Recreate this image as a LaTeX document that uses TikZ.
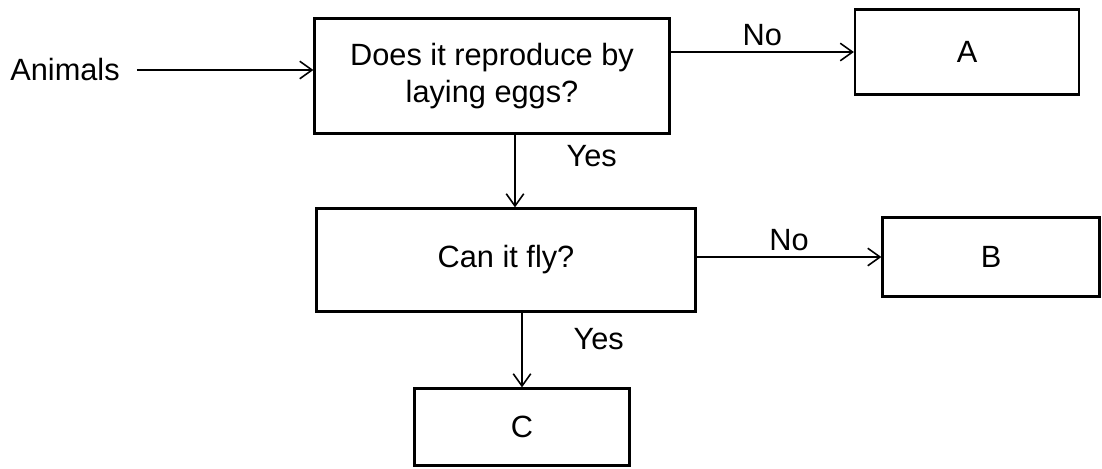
\documentclass[tikz,border=0pt]{standalone}
\usepackage{fontspec}
\setmainfont{Liberation Sans}
\usetikzlibrary{arrows.meta}

\tikzset{
	box/.style={draw, line width=1.3pt, inner sep=0pt, align=center},
	arr/.style={-{Straight Barb[length=7pt,width=10pt]}, line width=0.9pt},
}

\begin{document}
\begin{tikzpicture}[x=0.02cm, y=-0.02cm, font=\fontsize{17.5}{21}\selectfont]
		\useasboundingbox (0,0) rectangle (1102,468);

		\node (animals) at (65,70) {Animals};
		\node[box, minimum width=7.1cm, minimum height=2.3cm] (eggs) at (492,76) {Does it reproduce by\\laying eggs?};
		\node[box, minimum width=4.48cm, minimum height=1.7cm] (a) at (967,52) {A};

		\node[box, minimum width=7.58cm, minimum height=2.06cm] (fly) at (506,260) {Can it fly?};
		\node[box, minimum width=4.34cm, minimum height=1.58cm] (b) at (991,257) {B};

		\node[box, minimum width=4.3cm, minimum height=1.54cm] (c) at (522,427) {C};

		\draw[arr, shorten <=0.22cm] (animals.east) -- (animals.east -| eggs.west);
		\draw[arr] (eggs.east |- a.west) -- node[above]{No} (a.west);
		\draw[arr] ([xshift=-0.14cm]eggs.south -| c.north) -- node[pos=0.3, right=0.9cm]{Yes} ([xshift=-0.14cm]fly.north -| c.north);
		\draw[arr] (fly.east |- b.west) -- node[above]{No} (b.west);
		\draw[arr] (fly.south -| c.north) -- node[pos=0.35, right=0.9cm]{Yes} (c.north);
	\end{tikzpicture}
\end{document}
